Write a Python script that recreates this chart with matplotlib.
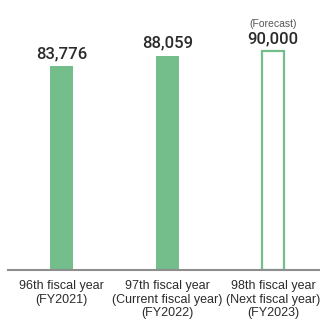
import matplotlib
matplotlib.use("Agg")
import matplotlib.pyplot as plt

plt.rcParams['font.family'] = ['Liberation Sans', 'DejaVu Sans']

categories = ["96th fiscal year\n(FY2021)",
              "97th fiscal year\n(Current fiscal year)\n(FY2022)",
              "98th fiscal year\n(Next fiscal year)\n(FY2023)"]
values = [83776, 88059, 90000]
value_labels = ["83,776", "88,059", "90,000"]
is_forecast = [False, False, True]

green = "#73BE8B"
text_dark = "#2b2b2b"

W, H = 320, 325
fig = plt.figure(figsize=(W / 100, H / 100), dpi=100)
ax = fig.add_axes([8 / W, 55 / H, 312 / W, 270 / H])

x = list(range(len(values)))
bw = 0.215
for xi, v, fc in zip(x, values, is_forecast):
    if fc:
        ax.bar(xi, v, width=bw, facecolor="white", edgecolor=green, linewidth=1.6)
    else:
        ax.bar(xi, v, width=bw, color=green, linewidth=0)

for xi, v, lab, fc in zip(x, values, value_labels, is_forecast):
    ax.annotate(lab, (xi, v), xytext=(0, 3.5), textcoords="offset points",
                ha="center", va="bottom", fontsize=12, fontweight="medium",
                family=["Roboto", "DejaVu Sans"], color=text_dark)
    if fc:
        ax.annotate("(Forecast)", (xi, v), xytext=(0, 16), textcoords="offset points",
                    ha="center", va="bottom", fontsize=7.5, color="#555555")

ax.set_xlim(-0.506, 2.444)
ax.set_ylim(0, 110900)
ax.set_xticks(x)
ax.set_xticklabels(categories, fontsize=9, color=text_dark, linespacing=1.13)
ax.tick_params(axis="x", length=0, pad=7.5)
ax.set_yticks([])
for s in ["top", "right", "left"]:
    ax.spines[s].set_visible(False)
ax.spines["bottom"].set_color("#8e8e8e")
ax.spines["bottom"].set_linewidth(1.5)
ax.patch.set_alpha(0)

fig.savefig("out.png", dpi=100)
